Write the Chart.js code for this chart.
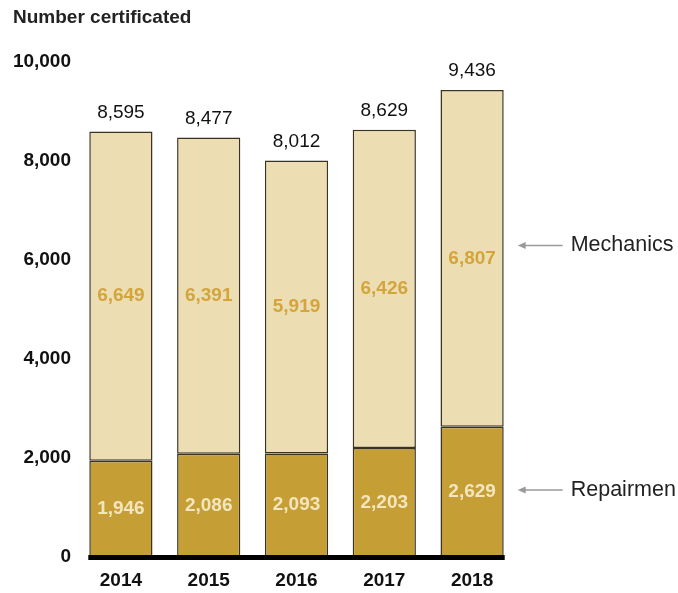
<!DOCTYPE html>
<html>
<head>
<meta charset="utf-8">
<script src="https://cdn.jsdelivr.net/npm/chart.js@4"></script>
<style>
  html, body { margin: 0; padding: 0; background: #fff; }
  canvas { display: block; }
</style>
</head>
<body>
<canvas id="chart" width="678" height="593"></canvas>
<script>
const years = ['2014', '2015', '2016', '2017', '2018'];
const repairmen = [1946, 2086, 2093, 2203, 2629];
const mechanics = [6649, 6391, 5919, 6426, 6807];
const totals = [8595, 8477, 8012, 8629, 9436];
const yTicks = [0, 2000, 4000, 6000, 8000, 10000];

const FONT = '"Liberation Sans", Arial, sans-serif';
const fmt = v => v.toLocaleString('en-US');

const labelsPlugin = {
  id: 'labels',
  afterDatasetsDraw(chart) {
    const ctx = chart.ctx;
    const x = chart.scales.x, y = chart.scales.y;
    const repMeta = chart.getDatasetMeta(0);
    const mechMeta = chart.getDatasetMeta(1);
    ctx.save();

    // thick baseline
    const first = repMeta.data[0], last = repMeta.data[repMeta.data.length - 1];
    const bx0 = first.x - first.width / 2 - 1, bx1 = last.x + last.width / 2 + 1;
    ctx.fillStyle = '#000';
    ctx.fillRect(bx0, y.getPixelForValue(0) - 2, bx1 - bx0, 5);

    ctx.textAlign = 'center';
    ctx.textBaseline = 'middle';
    years.forEach((yr, i) => {
      const cx = x.getPixelForValue(i);
      // repairmen value
      ctx.font = 'bold 19px ' + FONT;
      ctx.fillStyle = '#f3e6bf';
      ctx.fillText(fmt(repairmen[i]), cx, y.getPixelForValue(repairmen[i] / 2));
      // mechanics value
      ctx.fillStyle = '#d3a53c';
      ctx.fillText(fmt(mechanics[i]), cx, y.getPixelForValue(repairmen[i] + mechanics[i] / 2));
      // total
      ctx.font = '19px ' + FONT;
      ctx.fillStyle = '#111';
      ctx.fillText(fmt(totals[i]), cx, y.getPixelForValue(totals[i]) - 19);
    });

    // right-side series annotations
    const n = years.length - 1;
    const lastBar = mechMeta.data[n];
    const ax0 = lastBar.x + lastBar.width / 2 + 14;
    const ax1 = ax0 + 45;
    const notes = [
      ['Mechanics', y.getPixelForValue(repairmen[n] + mechanics[n] / 2) - 13],
      ['Repairmen', y.getPixelForValue(repairmen[n] / 2) - 2]
    ];
    notes.forEach(([txt, py]) => {
      ctx.strokeStyle = '#9a9a9a';
      ctx.fillStyle = '#9a9a9a';
      ctx.lineWidth = 1.5;
      ctx.beginPath();
      ctx.moveTo(ax1, py);
      ctx.lineTo(ax0 + 6, py);
      ctx.stroke();
      ctx.beginPath();
      ctx.moveTo(ax0, py);
      ctx.lineTo(ax0 + 8, py - 3.5);
      ctx.lineTo(ax0 + 8, py + 3.5);
      ctx.closePath();
      ctx.fill();
      ctx.font = '21.5px ' + FONT;
      ctx.fillStyle = '#222';
      ctx.textAlign = 'left';
      ctx.fillText(txt, ax1 + 8, py);
    });

    // title
    ctx.font = 'bold 19px ' + FONT;
    ctx.fillStyle = '#222';
    ctx.textAlign = 'left';
    ctx.fillText('Number certificated', 13, 18);
    ctx.restore();
  }
};

new Chart(document.getElementById('chart'), {
  type: 'bar',
  data: {
    labels: years,
    datasets: [
      {
        label: 'Repairmen',
        data: repairmen,
        backgroundColor: '#c59f35',
        borderColor: '#3b3220',
        borderWidth: 1.5,
        borderSkipped: false
      },
      {
        label: 'Mechanics',
        data: mechanics,
        backgroundColor: '#ecddb2',
        borderColor: '#3b3220',
        borderWidth: 1.5,
        borderSkipped: false
      }
    ]
  },
  options: {
    responsive: false,
    animation: false,
    layout: { padding: { top: 62, right: 162, left: 13, bottom: 0 } },
    plugins: { legend: { display: false }, tooltip: { enabled: false }, title: { display: false } },
    datasets: { bar: { barPercentage: 0.72, categoryPercentage: 1 } },
    scales: {
      x: {
        stacked: true,
        grid: { display: false, drawTicks: false, tickLength: 0 },
        border: { display: false },
        ticks: { color: '#111', font: { family: FONT, size: 19, weight: 'bold' }, padding: 12 },
        afterFit: axis => { axis.height = 36; }
      },
      y: {
        stacked: true,
        min: 0,
        max: 10000,
        afterBuildTicks: axis => { axis.ticks = yTicks.map(v => ({ value: v })); },
        grid: { display: false, drawTicks: false, tickLength: 0 },
        border: { display: false },
        ticks: { color: '#111', font: { family: FONT, size: 19, weight: 'bold' }, padding: 6, callback: v => fmt(v) },
        afterFit: axis => { axis.width = 64; }
      }
    }
  },
  plugins: [labelsPlugin]
});
</script>
</body>
</html>
